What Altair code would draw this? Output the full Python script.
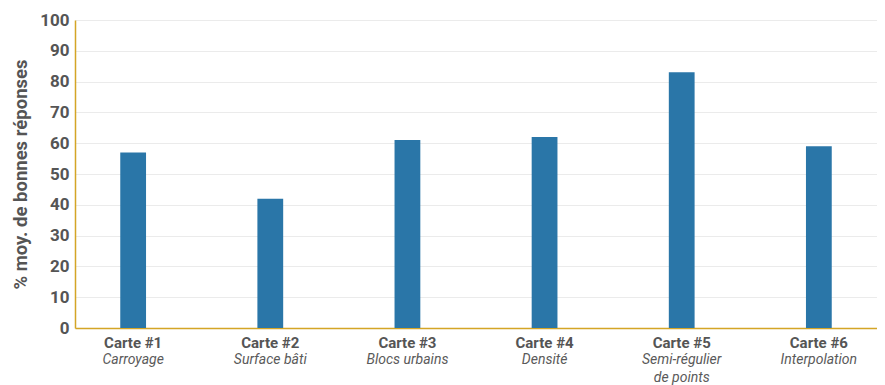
import altair as alt
import pandas as pd

cartes = ["Carte #1", "Carte #2", "Carte #3", "Carte #4", "Carte #5", "Carte #6"]
methodes = ["Carroyage", "Surface bâti", "Blocs urbains", "Densité", "Semi-régulier\nde points", "Interpolation"]
valeurs = [57, 42, 61, 62, 83, 59]

df = pd.DataFrame({"carte": cartes, "methode": methodes, "valeur": valeurs})

W, H = 802, 308
axis_color = "#d4a526"
text_color = "#555555"
font = "Roboto"

xscale = alt.Scale(domain=cartes, paddingInner=0.812, paddingOuter=0.33)

base = alt.Chart(df)

bars = base.mark_bar(color="#2a76a8").encode(
    x=alt.X("carte:N", scale=xscale, sort=cartes,
            axis=alt.Axis(title=None, labelAngle=0, labelFont=font, labelFontSize=15,
                          labelFontWeight="bold", labelColor=text_color, ticks=False,
                          domainColor=axis_color, domainWidth=1.5, labelPadding=7)),
    y=alt.Y("valeur:Q", scale=alt.Scale(domain=[0, 100]),
            axis=alt.Axis(title="% moy. de bonnes réponses", values=list(range(0, 101, 10)),
                          labelFont=font, labelFontSize=17, labelFontWeight="bold",
                          labelColor=text_color, ticks=False, labelPadding=6,
                          domainColor=axis_color, domainWidth=1.5,
                          gridColor="#ebebeb", titleFont=font, titleFontSize=18.5,
                          titleFontWeight="bold", titleColor=text_color, titlePadding=9)),
)

sub = base.mark_text(font=font, fontSize=14, fontStyle="italic", color="#5a5a5a",
                     baseline="middle", lineBreak="\n", lineHeight=18).encode(
    x=alt.X("carte:N", scale=xscale, sort=cartes),
    y=alt.value(H + 32),
    text="methode:N",
)

chart = (bars + sub).properties(
    width=W, height=H, autosize=alt.AutoSizeParams(type="none"),
    padding={"left": 67, "top": 12, "right": 0, "bottom": 57},
).configure_view(stroke=None)

chart.save("out.html", embed_options={"renderer": "svg", "actions": False})
